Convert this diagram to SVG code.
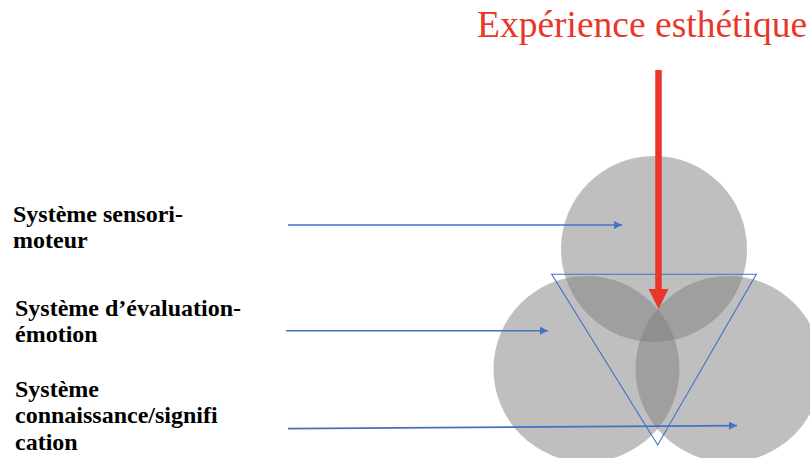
<svg xmlns="http://www.w3.org/2000/svg" width="810" height="458" viewBox="0 0 810 458">
<style>
.lbl{font-family:"Liberation Serif","DejaVu Serif",serif;font-weight:700;font-size:24px;fill:#000}
.title{font-family:"Liberation Serif","DejaVu Serif",serif;font-size:37.5px;fill:#E8362A}
.circ{fill:#808080;fill-opacity:0.5}
.blue{stroke:#4472C4;stroke-width:1.6;fill:none}
.head{fill:#4472C4}
</style>
<defs>
<marker id="ah" viewBox="0 0 10 10" refX="10" refY="5" markerWidth="8" markerHeight="8" markerUnits="userSpaceOnUse" orient="auto">
<path d="M0,0 L10,5 L0,10 z" class="head"/>
</marker>
</defs>
<rect width="810" height="458" fill="#fff"/>
<g id="title"><text class="title" x="477" y="36.5">Expérience esthétique</text></g>
<g id="circles">
<circle id="c-top" class="circ" cx="654" cy="249" r="93"/>
<circle id="c-left" class="circ" cx="586.5" cy="369" r="93"/>
<circle id="c-right" class="circ" cx="728.5" cy="369" r="93"/>
</g>
<g id="triangle"><polygon points="551.7,274.3 756.3,274.3 657.7,445" fill="none" stroke="#4472C4" stroke-width="1.1"/></g>
<g id="label-sensori"><text class="lbl" x="13" y="221.5">Système sensori-<tspan x="13" y="248">moteur</tspan></text></g>
<g id="label-evaluation"><text class="lbl" x="15" y="316">Système d’évaluation-<tspan x="15" y="342">émotion</tspan></text></g>
<g id="label-connaissance"><text class="lbl" x="15" y="396.5">Système<tspan x="15" y="423">connaissance/signifi</tspan><tspan x="15" y="450">cation</tspan></text></g>
<g id="connectors">
<line class="blue" x1="288" y1="225" x2="622" y2="225" marker-end="url(#ah)"/>
<line class="blue" x1="286" y1="330.7" x2="548" y2="330.7" marker-end="url(#ah)"/>
<line class="blue" x1="288" y1="428.6" x2="737" y2="425.6" marker-end="url(#ah)"/>
<line x1="658.5" y1="70" x2="658.5" y2="292" stroke="#E8362A" stroke-width="6.5"/>
<polygon points="648.5,289 668.5,289 658.5,309" fill="#E8362A"/>
</g>
</svg>
